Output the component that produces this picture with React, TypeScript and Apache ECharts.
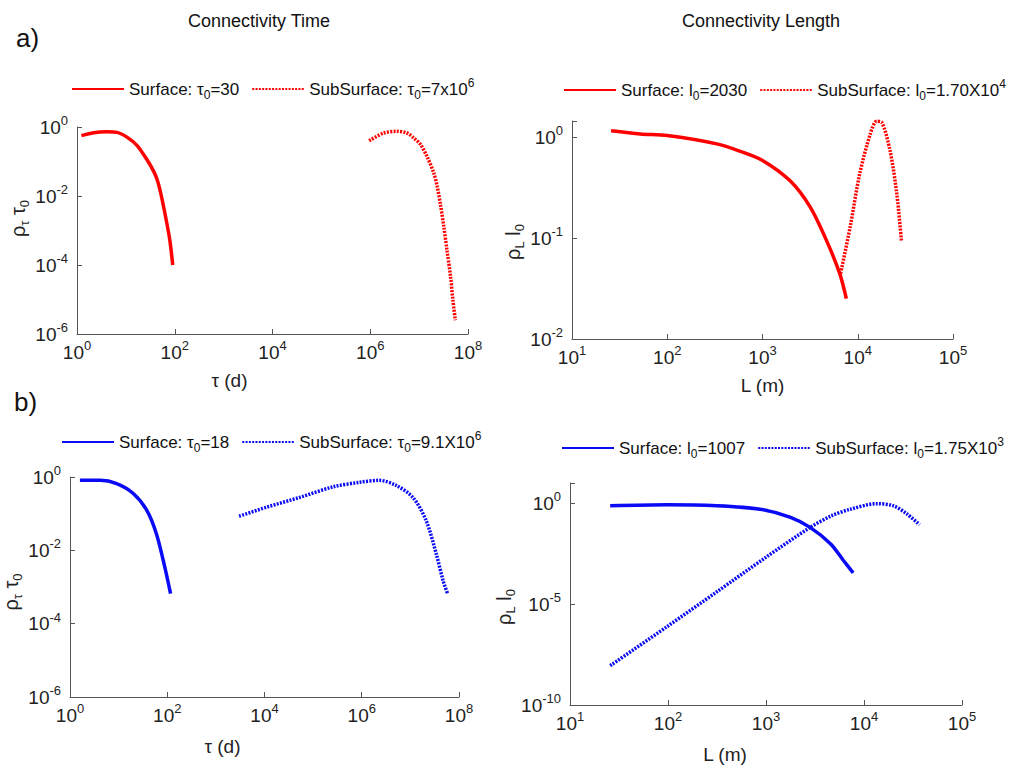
import React, { useEffect, useRef } from 'react';
import * as echarts from 'echarts';

// ---- Panel a) left : Connectivity Time (red)
const aSurfTau = [1.23, 2.19, 4.07, 6.6, 10.5, 17.0, 27.1, 37.1, 43.7, 50.7, 58.9, 64, 79, 91];
const aSurfRho = [0.56, 0.684, 0.73, 0.70, 0.51, 0.29, 0.112, 0.0516, 0.0295, 0.01355, 0.0050, 0.0028, 0.00054, 0.0001];
const aSubTau = [9.5e5, 1.9e6, 3.5e6, 5.6e6, 7.8e6, 1.07e7, 1.45e7, 2.0e7, 2.34e7, 2.7e7, 3.2e7, 3.7e7, 4.4e7, 4.9e7, 5.5e7];
const aSubRho = [0.40, 0.67, 0.75, 0.67, 0.48, 0.31, 0.14, 0.046, 0.019, 0.0062, 0.0013, 2.8e-4, 4.6e-5, 9.8e-6, 2.5e-6];

// ---- Panel a) right : Connectivity Length (red)
const bSurfL = [25.7, 52, 100, 331, 575, 1000, 1950, 3160, 4680, 6460, 7590];
const bSurfRho = [1.16, 1.08, 1.04, 0.86, 0.73, 0.59, 0.37, 0.204, 0.0955, 0.0447, 0.0251];
const bSubL = [6610, 8320, 10500, 13500, 15800, 17800, 21800, 25700, 28800];
const bSubRho = [0.0447, 0.129, 0.436, 1.07, 1.44, 1.41, 0.74, 0.275, 0.092];

// ---- Panel b) left : Connectivity Time (blue)
const cSurfTau = [1.6, 4.2, 9.1, 20, 38, 60, 89, 117];
const cSurfRho = [0.81, 0.81, 0.66, 0.355, 0.123, 0.028, 0.0035, 6.6e-4];
const cSubTau = [3000, 11000, 54000, 2.6e5, 9.1e5, 2.3e6, 5.1e6, 1.12e7, 2.1e7, 3.4e7, 4.7e7, 5.8e7];
const cSubRho = [0.085, 0.15, 0.28, 0.54, 0.72, 0.81, 0.59, 0.28, 0.066, 0.0081, 0.0015, 6.6e-4];

// ---- Panel b) right : Connectivity Length (blue)
const dSurfL = [25.7, 98, 316, 870, 1780, 2820, 4570, 6170, 7760];
const dSurfRho = [0.74, 0.83, 0.74, 0.50, 0.20, 0.063, 0.0095, 0.00145, 3.5e-4];
const dSubL = [25.7, 98, 316, 1000, 2820, 4680, 7240, 13500, 20000, 27500, 37000];
const dSubRho = [8.9e-9, 7.7e-7, 4.1e-5, 2.1e-3, 0.063, 0.24, 0.50, 0.95, 0.74, 0.29, 0.085];

const RED = '#ff0000';
const BLUE = '#0a0af5';
const FONT = "'Liberation Sans', Arial, sans-serif";

const names = {
  aS: 'Surface: τ0=30',
  aD: 'SubSurface: τ0=7x10^6',
  bS: 'Surface: l0=2030',
  bD: 'SubSurface: l0=1.70X10^4',
  cS: 'Surface: τ0=18',
  cD: 'SubSurface: τ0=9.1X10^6',
  dS: 'Surface: l0=1007',
  dD: 'SubSurface: l0=1.75X10^3',
};

const legendRichText: Record<string, string> = {
  [names.aS]: '{t|Surface: τ}{sub|0}{t|=30}',
  [names.aD]: '{t|SubSurface: τ}{sub|0}{t|=7x10}{sup|6}',
  [names.bS]: '{t|Surface: l}{sub|0}{t|=2030}',
  [names.bD]: '{t|SubSurface: l}{sub|0}{t|=1.70X10}{sup|4}',
  [names.cS]: '{t|Surface: τ}{sub|0}{t|=18}',
  [names.cD]: '{t|SubSurface: τ}{sub|0}{t|=9.1X10}{sup|6}',
  [names.dS]: '{t|Surface: l}{sub|0}{t|=1007}',
  [names.dD]: '{t|SubSurface: l}{sub|0}{t|=1.75X10}{sup|3}',
};

const zip = (xs: number[], ys: number[]) => xs.map((x, i) => [x, ys[i]]);

const tickRich = {
  b: { fontSize: 19, lineHeight: 26, color: '#222', fontFamily: FONT },
  s: { fontSize: 13, lineHeight: 14, verticalAlign: 'top', color: '#222', fontFamily: FONT },
};

const tickFmt = (step: number) => (v: number) => {
  const e = Math.log10(v);
  const r = Math.round(e);
  if (Math.abs(e - r) > 1e-6 || r % step !== 0) return '';
  return `{b|10}{s|${r}}`;
};

const nameRich = {
  n: { fontSize: 20, lineHeight: 26, color: '#222', fontFamily: FONT },
  sub: { fontSize: 13, lineHeight: 12, verticalAlign: 'bottom', color: '#222', fontFamily: FONT },
};

const legendRich = {
  t: { fontSize: 17, lineHeight: 24, color: '#111', fontFamily: FONT },
  sub: { fontSize: 12, lineHeight: 12, verticalAlign: 'bottom', color: '#111', fontFamily: FONT },
  sup: { fontSize: 12, lineHeight: 12, verticalAlign: 'top', color: '#111', fontFamily: FONT },
};

const axisCommon = {
  type: 'log',
  logBase: 10,
  splitLine: { show: false },
  axisLine: { show: true, lineStyle: { color: '#555', width: 1 } },
  axisTick: { show: true, inside: true, length: 5, lineStyle: { color: '#555' } },
};

function makeX(grid: number, min: number, max: number, interval: number, step: number, name: string, gap: number, pad: number) {
  return {
    ...axisCommon,
    gridIndex: grid,
    min,
    max,
    interval,
    name,
    nameLocation: 'middle',
    nameGap: gap,
    nameTextStyle: { fontSize: 19, color: '#222', fontFamily: FONT, padding: [0, pad, 0, 0] },
    axisLabel: { margin: 5, formatter: tickFmt(step), rich: tickRich },
  };
}

function makeY(grid: number, min: number, max: number, interval: number, step: number, name: string, gap: number, pad: number[]) {
  return {
    ...axisCommon,
    gridIndex: grid,
    min,
    max,
    interval,
    name,
    nameLocation: 'middle',
    nameGap: gap,
    nameTextStyle: { color: '#222', fontFamily: FONT, padding: pad, rich: nameRich },
    axisLabel: { margin: 9, formatter: tickFmt(step), rich: tickRich },
  };
}

function line(name: string, grid: number, data: number[][], color: string, dotted: boolean) {
  return {
    type: 'line',
    name,
    xAxisIndex: grid,
    yAxisIndex: grid,
    data,
    smooth: 0.3,
    symbol: 'none',
    showSymbol: false,
    lineStyle: { color, width: 3.5, type: dotted ? [2, 1.3] : 'solid', cap: 'butt' },
    itemStyle: { color },
    emphasis: { disabled: true },
  };
}

function legend(left: number, top: number, data: string[]) {
  return {
    left,
    top,
    data,
    itemWidth: 52,
    itemHeight: 14,
    itemGap: 12,
    selectedMode: false,
    itemStyle: { opacity: 0 },
    formatter: (n: string) => legendRichText[n] || n,
    textStyle: { rich: legendRich },
  };
}

export default function App() {
  const ref = useRef<HTMLDivElement>(null);
  useEffect(() => {
    if (!ref.current) return;
    const chart = echarts.init(ref.current, undefined, { renderer: 'svg' });
    chart.setOption({
      animation: false,
      backgroundColor: '#fff',
      textStyle: { fontFamily: FONT },
      graphic: [
        { type: 'text', left: 16, top: 25, style: { text: 'a)', fontSize: 26, fill: '#111', fontFamily: FONT } },
        { type: 'text', left: 14, top: 389, style: { text: 'b)', fontSize: 26, fill: '#111', fontFamily: FONT } },
        { type: 'text', x: 259, y: 21, style: { text: 'Connectivity Time', fontSize: 18, fill: '#111', fontFamily: FONT, align: 'center', verticalAlign: 'middle' } },
        { type: 'text', x: 761, y: 21, style: { text: 'Connectivity Length', fontSize: 18, fill: '#111', fontFamily: FONT, align: 'center', verticalAlign: 'middle' } },
      ],
      legend: [
        legend(66, 72, [names.aS, names.aD]),
        legend(558, 73, [names.bS, names.bD]),
        legend(56, 425, [names.cS, names.cD]),
        legend(556, 431, [names.dS, names.dD]),
      ],
      grid: [
        { left: 77, top: 127, width: 391, height: 207 },
        { left: 572, top: 121, width: 381, height: 218 },
        { left: 70, top: 477, width: 389, height: 220 },
        { left: 570, top: 483, width: 392, height: 222 },
      ],
      xAxis: [
        makeX(0, 1, 1e8, 2, 2, 'τ (d)', 37, 86),
        makeX(1, 10, 1e5, 1, 1, 'L (m)', 37, 0),
        makeX(2, 1, 1e8, 2, 2, 'τ (d)', 40, 84),
        makeX(3, 10, 1e5, 1, 1, 'L (m)', 40, 82),
      ],
      yAxis: [
        makeY(0, 1e-6, 1, 2, 2, '{n|ρ}{sub|τ}{n| τ}{sub|0}', 42, [0, 0, 0, 24]),
        makeY(1, 0.01, 1.45, 1, 1, '{n|ρ}{sub|L}{n| l}{sub|0}', 43, [0, 24, 0, 0]),
        makeY(2, 1e-6, 1, 2, 2, '{n|ρ}{sub|τ}{n| τ}{sub|0}', 42, [0, 10, 0, 0]),
        makeY(3, 1e-10, 10, 5, 5, '{n|ρ}{sub|L}{n| l}{sub|0}', 42, [0, 26, 0, 0]),
      ],
      series: [
        line(names.aS, 0, zip(aSurfTau, aSurfRho), RED, false),
        line(names.aD, 0, zip(aSubTau, aSubRho), RED, true),
        line(names.bS, 1, zip(bSurfL, bSurfRho), RED, false),
        line(names.bD, 1, zip(bSubL, bSubRho), RED, true),
        line(names.cS, 2, zip(cSurfTau, cSurfRho), BLUE, false),
        line(names.cD, 2, zip(cSubTau, cSubRho), BLUE, true),
        line(names.dS, 3, zip(dSurfL, dSurfRho), BLUE, false),
        line(names.dD, 3, zip(dSubL, dSubRho), BLUE, true),
      ],
    });
    return () => chart.dispose();
  }, []);
  return <div ref={ref} style={{ position: 'absolute', left: 0, top: 0, width: 1027, height: 766 }} />;
}
